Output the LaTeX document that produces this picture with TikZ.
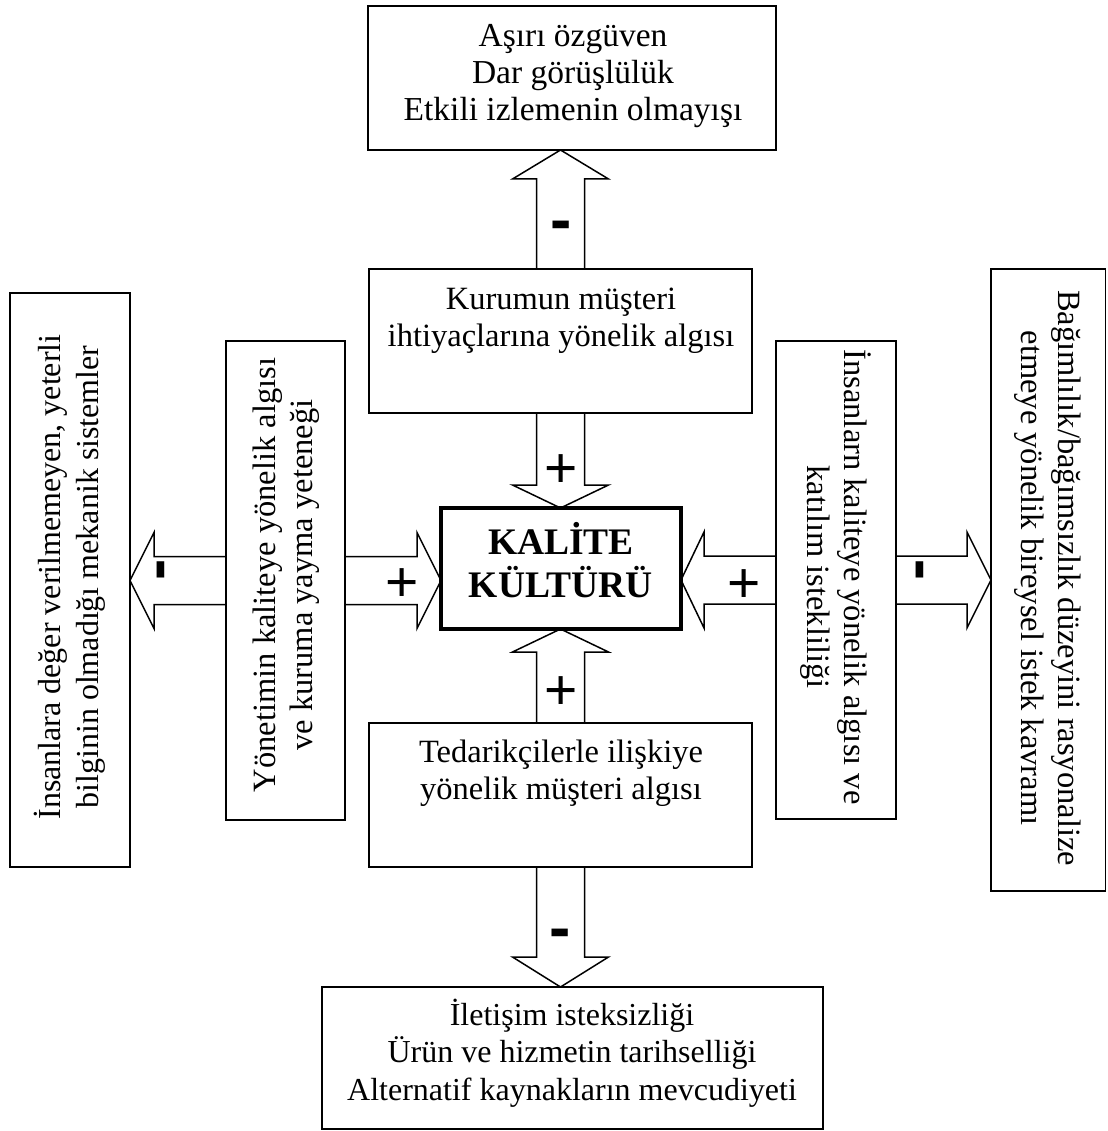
\documentclass[tikz,border=0pt]{standalone}
\usepackage{fontspec}
\setmainfont{Liberation Serif}
\newfontfamily\signfont{Liberation Sans}
\usetikzlibrary{calc}

% centred block of lines whose baseline is the first line's baseline
\newcommand\linestack[1]{\parbox[t]{600pt}{\centering #1}}

% hollow block arrow from #1 to #2, head length #3 (pt)
\newcommand\blockarrow[3]{%
  \path let \p1=(#1), \p2=(#2),
            \n1={atan2(\y2-\y1,\x2-\x1)},
            \n2={veclen(\x2-\x1,\y2-\y1)} in
        \pgfextra{\xdef\arrang{\n1}\xdef\arrlenraw{\n2}};
  \pgfmathsetmacro\arrlen{\arrlenraw}%
  \pgfmathsetmacro\arrangle{\arrang}%
  \pgfmathsetmacro\arrbase{\arrlen-#3}%
  \begin{scope}[shift={(#1)}, rotate=\arrangle]
    \draw[blockline] (0pt,-24pt) -- (\arrbase pt,-24pt) -- (\arrbase pt,-48pt)
      -- (\arrlen pt,0pt) -- (\arrbase pt,48pt) -- (\arrbase pt,24pt) -- (0pt,24pt);
  \end{scope}%
}

\tikzset{
  box/.style={draw, line width=1.5pt, anchor=north west, inner sep=0pt, outer sep=0pt},
  mainbox/.style={box, line width=3.2pt},
  bodytext/.style={inner sep=0pt, font=\fontsize{32.5}{37}\selectfont},
  uptext/.style={bodytext, rotate=90, align=center},
  downtext/.style={bodytext, rotate=-90, align=center},
  blockline/.style={line width=1.5pt, line join=miter},
  plussign/.style={inner sep=0pt, anchor=base, font=\signfont\fontsize{57}{57}\selectfont},
  minussign/.style={inner sep=0pt, anchor=base, font=\signfont\bfseries\fontsize{64}{64}\selectfont},
}

\begin{document}
\begin{tikzpicture}[x=1pt, y=-1pt]
\useasboundingbox (0,0) rectangle (1107,1131);

% boxes
\node[box, minimum width=408pt, minimum height=144pt] (top) at (368,6) {};
\node[box, minimum width=383pt, minimum height=144pt] (kur) at (369,269) {};
\node[mainbox, minimum width=240pt, minimum height=121pt] (kal) at (441,508) {};
\node[box, minimum width=383pt, minimum height=144pt] (ted) at (369,723) {};
\node[box, minimum width=501pt, minimum height=142pt] (bot) at (322,987) {};
\node[box, minimum width=120pt, minimum height=574pt] (fl) at (10,293) {};
\node[box, minimum width=119pt, minimum height=479pt] (yon) at (226,341) {};
\node[box, minimum width=120pt, minimum height=478pt] (ins) at (776,341) {};
\node[box, minimum width=114.5pt, minimum height=622pt] (fr) at (991,269) {};

% texts
\node[bodytext, anchor=base, font=\fontsize{33.5}{36.7}\selectfont] (topT) at (573,47)
  {\linestack{Aşırı özgüven\\Dar görüşlülük\\Etkili izlemenin olmayışı}};
\node[bodytext, anchor=base] (kurT) at (561,309)
  {\linestack{Kurumun müşteri\\ihtiyaçlarına yönelik algısı}};
\node[inner sep=0pt, anchor=base, font=\bfseries\fontsize{37.5}{43}\selectfont] (kalT) at (561,554)
  {\linestack{KALİTE\\KÜLTÜRÜ}};
\node[bodytext, anchor=base] (tedT) at (561,762)
  {\linestack{Tedarikçilerle ilişkiye\\yönelik müşteri algısı}};
\node[bodytext, anchor=base, font=\fontsize{32}{37.5}\selectfont] (botT) at (572,1025)
  {\linestack{İletişim isteksizliği\\Ürün ve hizmetin tarihselliği\\Alternatif kaynakların mevcudiyeti}};
\node[uptext, font=\fontsize{32}{38}\selectfont] (flT) at (70,577)
  {İnsanlara değer verilmemeyen, yeterli\\bilginin olmadığı mekanik sistemler};
\node[uptext] (yonT) at (286,575)
  {Yönetimin kaliteye yönelik algısı\\ve kuruma yayma yeteneği};
\node[downtext] (insT) at (836,577)
  {İnsanlarn kaliteye yönelik algısı ve\\katılım istekliliği};
\node[downtext] (frT) at (1048,578)
  {Bağımlılık/bağımsızlık düzeyini rasyonalize\\etmeye yönelik bireysel istek kavramı};

% block arrows
\blockarrow{kur.north}{kur.north |- top.south}{29}
\blockarrow{kur.south}{kur.south |- kal.north}{23}
\blockarrow{ted.north}{ted.north |- kal.south}{23}
\blockarrow{ted.south}{ted.south |- bot.north}{30}
\blockarrow{yon.west}{yon.west -| fl.east}{24}
\blockarrow{yon.east}{yon.east -| kal.west}{24}
\blockarrow{ins.west}{ins.west -| kal.east}{23}
\blockarrow{ins.east}{ins.east -| fr.west}{24}

% signs on the arrows
\node[minussign] (mTop) at (561,242) {-};
\node[minussign] (mBot) at (560,949) {-};
\node[minussign, rotate=90] (mLeft) at (177.5,570) {-};
\node[minussign, rotate=90] (mRight) at (936,570) {-};
\node[plussign] (pTop) at (561,487) {+};
\node[plussign] (pBot) at (561,709) {+};
\node[plussign] (pLeft) at (402,601) {+};
\node[plussign] (pRight) at (744,602) {+};
\end{tikzpicture}
\end{document}
